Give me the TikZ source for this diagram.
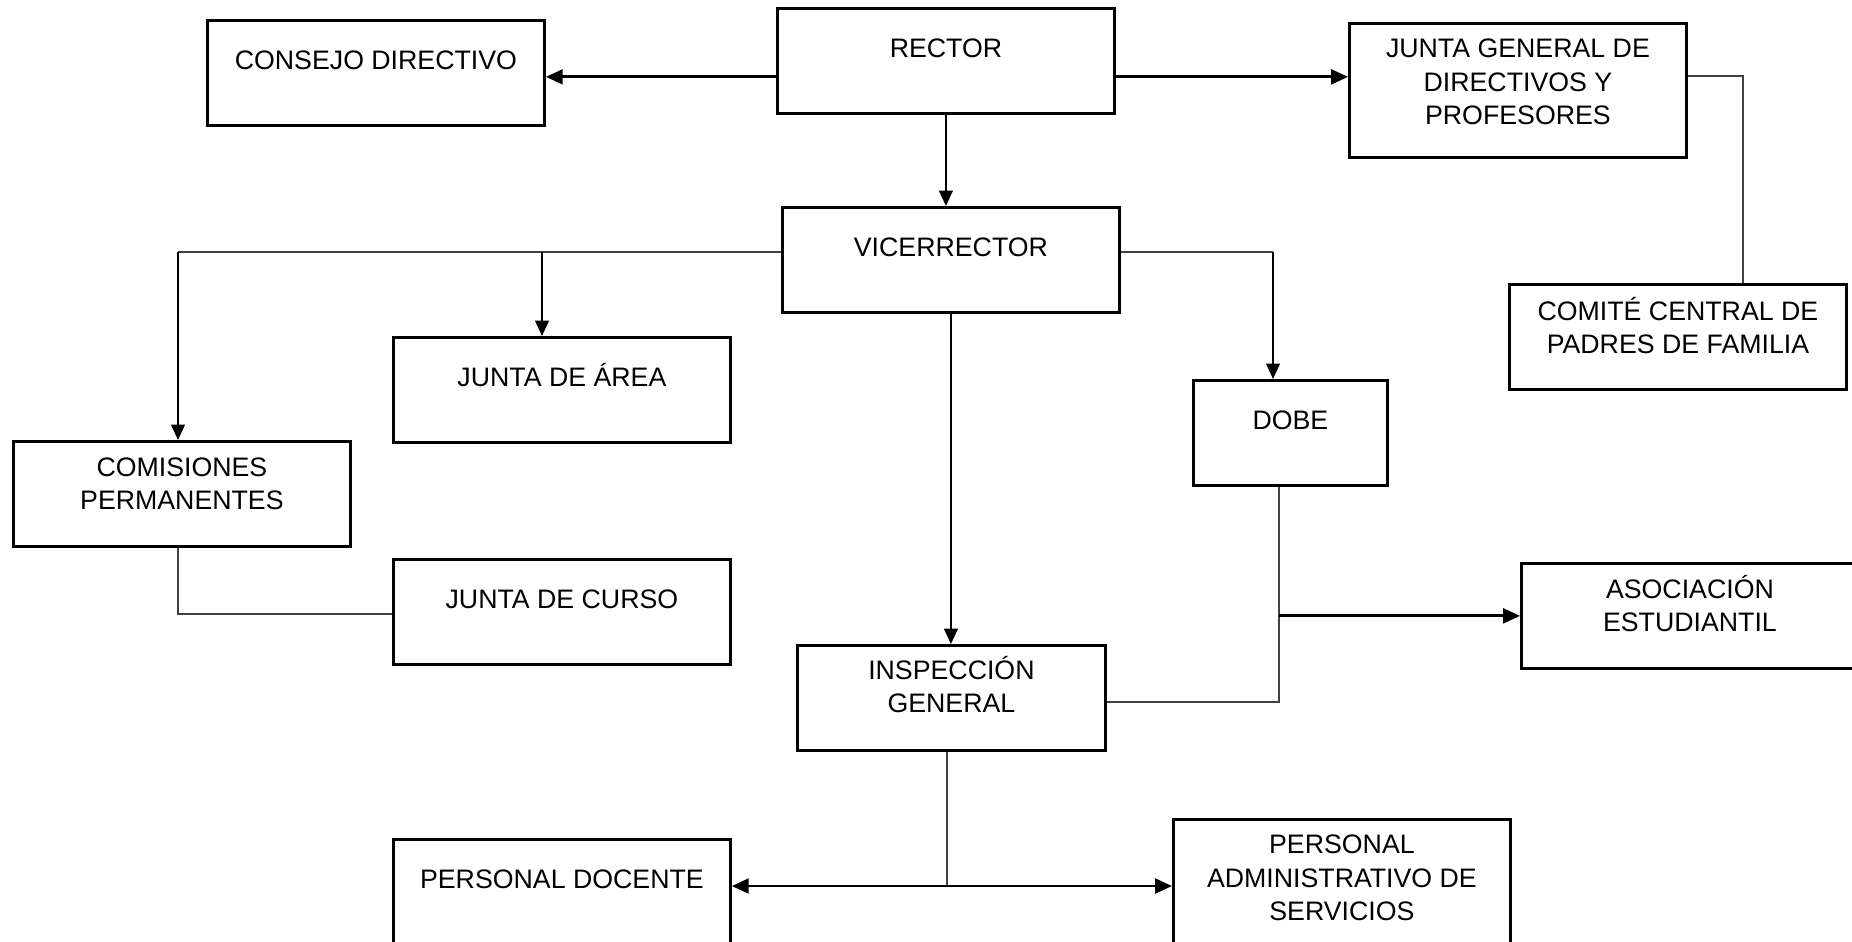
\documentclass[tikz,border=0pt]{standalone}
\usepackage{fontspec}
\setmainfont{Liberation Sans}
\usetikzlibrary{arrows.meta}

\tikzset{
  box/.style={draw, line width=0.75pt, anchor=north west, inner sep=0pt,
    minimum width=3.37cm, minimum height=1.05cm},
  tall/.style={minimum height=1.34cm},
  lbl/.style={anchor=base, inner sep=0pt, align=center,
    font=\fontsize{7.6}{9.4}\selectfont},
  arr/.style={-{Triangle[length=4.8pt,width=4.2pt]}, line width=0.8pt},
  arrm/.style={-{Triangle[length=4.4pt,width=3.9pt]}, line width=0.6pt},
  arrb/.style={{Triangle[length=4.8pt,width=4.2pt]}-{Triangle[length=4.8pt,width=4.2pt]}, line width=0.8pt},
  link/.style={line width=0.35pt, black!75},
}

\begin{document}
\begin{tikzpicture}[x=0.01cm, y=-0.01cm]
\useasboundingbox (0,0) rectangle (1852,941);
\clip (0,0) rectangle (1852,941);

% Boxes
\node[box] (rector) at (776,7) {};
\node[box] (consejo) at (206,19) {};
\node[box, tall] (junta) at (1348,22) {};
\node[box] (vice) at (781,206) {};
\node[box] (comite) at (1508,283) {};
\node[box] (area) at (392,336) {};
\node[box, minimum width=1.94cm] (dobe) at (1192,379) {};
\node[box] (comisiones) at (12,440) {};
\node[box] (curso) at (392,558) {};
\node[box] (asoc) at (1520,562) {};
\node[box, minimum width=3.08cm] (insp) at (796,644) {};
\node[box, tall] (admin) at (1172,818) {};
\node[box] (docente) at (392,838) {};

% Labels (base = last line)
\node[lbl] (rectorT) at ([yshift=-0.5cm]rector.north) {RECTOR};
\node[lbl] (consejoT) at ([yshift=-0.5cm]consejo.north) {CONSEJO DIRECTIVO};
\node[lbl] (juntaT) at ([yshift=-1.02cm]junta.north) {JUNTA GENERAL DE\\DIRECTIVOS Y\\PROFESORES};
\node[lbl] (viceT) at ([yshift=-0.5cm]vice.north) {VICERRECTOR};
\node[lbl] (comiteT) at ([yshift=-0.7cm]comite.north) {COMITÉ CENTRAL DE\\PADRES DE FAMILIA};
\node[lbl] (areaT) at ([yshift=-0.5cm]area.north) {JUNTA DE ÁREA};
\node[lbl] (dobeT) at ([yshift=-0.5cm]dobe.north) {DOBE};
\node[lbl] (comisionesT) at ([yshift=-0.69cm]comisiones.north) {COMISIONES\\PERMANENTES};
\node[lbl] (cursoT) at ([yshift=-0.5cm]curso.north) {JUNTA DE CURSO};
\node[lbl] (asocT) at ([yshift=-0.69cm]asoc.north) {ASOCIACIÓN\\ESTUDIANTIL};
\node[lbl] (inspT) at ([yshift=-0.68cm]insp.north) {INSPECCIÓN\\GENERAL};
\node[lbl] (adminT) at ([yshift=-1.02cm]admin.north) {PERSONAL\\ADMINISTRATIVO DE\\SERVICIOS};
\node[lbl] (docenteT) at ([yshift=-0.5cm]docente.north) {PERSONAL DOCENTE};

% Rector
\coordinate (rw) at ([yshift=-0.16cm]rector.west);
\coordinate (re) at ([yshift=-0.16cm]rector.east);
\draw[arr] (rw) -- (rw -| consejo.east);
\draw[arr] (re) -- (re -| junta.west);
\draw[arrm] (rector.south) -- (rector.south |- vice.north);

% Vicerrector
\coordinate (vl) at (178,252);
\coordinate (va) at (542,252);
\coordinate (vr) at (1273,252);
\draw[link] (vice.west |- vl) -- (vl);
\draw[arrm] (vl) -- (vl |- comisiones.north);
\draw[arrm] (va) -- (va |- area.north);
\draw[link] (vice.east |- vr) -- (vr);
\draw[arrm] (vr) -- (vr |- dobe.north);
\draw[arrm] (vice.south) -- (vice.south |- insp.north);

% Junta general - comite
\coordinate (jc) at (1743,76);
\draw[link] (junta.east |- jc) -- (jc) -- (jc |- comite.north);

% Comisiones - junta de curso
\coordinate (cc) at (178,614);
\draw[link] (cc |- comisiones.south) -- (cc) -- (cc -| curso.west);

% DOBE - inspeccion - asociacion
\coordinate (di) at (1279,702);
\draw[link] (di |- dobe.south) -- (di) -- (di -| insp.east);
\draw[arr] (asoc.west -| di) -- (asoc.west);

% Inspeccion - personal
\coordinate (ip) at (947,886);
\draw[link] (insp.south -| ip) -- (ip);
\draw[arrb] (docente.east |- ip) -- (admin.west |- ip);
\end{tikzpicture}
\end{document}
